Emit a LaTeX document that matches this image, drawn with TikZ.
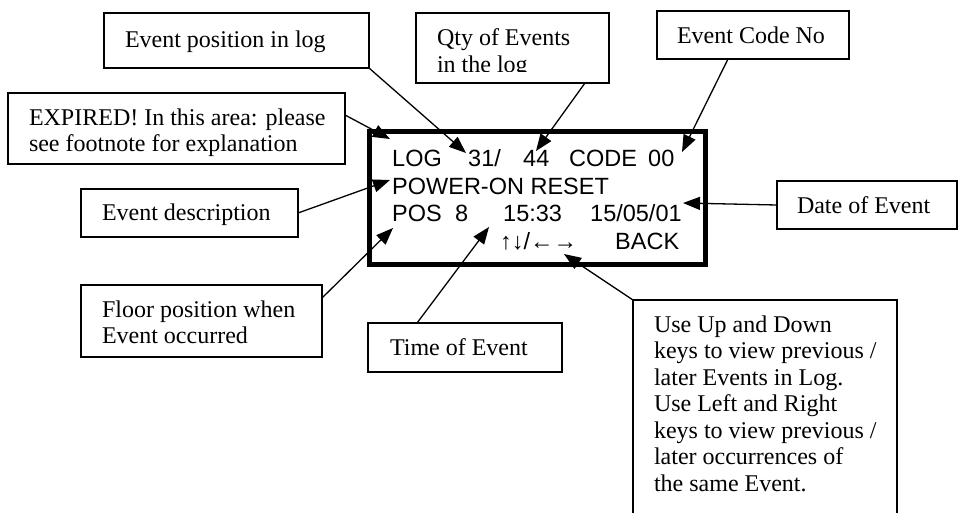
\documentclass[tikz,border=0pt]{standalone}
\usepackage{fontspec}
\setmainfont{Liberation Serif}
\newfontfamily\lcdfont{Liberation Sans}
\usetikzlibrary{arrows.meta}
\newcommand\lblfont{\fontsize{24}{26.5}\selectfont}
\newcommand\boxtext[2]{\makebox[#1pt][l]{\begin{tabular}[t]{@{}l@{}}#2\end{tabular}}}
\newcommand\lcdcell[2]{\makebox[#1pt][l]{#2}}

\begin{document}
\begin{tikzpicture}[x=1pt,y=-1pt,
    lbl/.style={draw, line width=1.5pt, anchor=base west, inner ysep=0pt, outer sep=0pt, font=\lblfont},
    lcdtext/.style={anchor=base west, inner sep=0pt, font=\lcdfont\fontsize{23.5}{27}\selectfont},
    pointer/.style={line width=1.3pt, -{Triangle[length=17pt,width=13pt]}}]
  \useasboundingbox (0,0) rectangle (958,512);
  \clip (0,0) rectangle (958,512);

  % the display
  \node[draw, line width=5pt, minimum width=336pt, minimum height=133pt, inner sep=0pt] (lcd) at (537.5,198) {};
  \node[lcdtext] (logline) at (392,166) {\lcdcell{76}{LOG}\lcdcell{55}{31/}\lcdcell{46}{44}\lcdcell{79}{CODE}00};
  \node[lcdtext] (msgline) at (392,194) {POWER-ON RESET};
  \node[lcdtext] (posline) at (392,221) {\lcdcell{63}{POS}\lcdcell{48}{8}\lcdcell{87}{15:33}15/05/01};
  \node[lcdtext] (keyline) at (500,249) {\lcdcell{115}{↑↓/←→}BACK};

  % callout boxes
  \node[lbl, inner xsep=21pt, text height=34pt, text depth=21pt] (posbox) at (104,47) {\boxtext{223}{Event position in log}};
  \node[lbl, inner xsep=21pt, text height=32.5pt, text depth=37.5pt] (qtybox) at (416,45.5) {\boxtext{151}{Qty of Events\\in the log}};
  \fill[white] (417,71.5) rectangle (608,82); % text frame cuts the second line
  \node[lbl, inner xsep=20pt, text height=32pt, text depth=16pt] (codebox) at (657,43) {\boxtext{152}{Event Code No}};
  \node[lbl, inner xsep=21pt, text height=32pt, text depth=39pt] (expbox) at (8,125) {\boxtext{295}{EXPIRED! In this area: please\\see footnote for explanation}};
  \node[lbl, inner xsep=21pt, text height=31pt, text depth=17pt] (descbox) at (81,220) {\boxtext{175}{Event description}};
  \node[lbl, inner xsep=21pt, text height=32pt, text depth=40pt] (floorbox) at (81,317) {\boxtext{199}{Floor position when\\Event occurred}};
  \node[lbl, inner xsep=22pt, text height=32pt, text depth=17pt] (timebox) at (368,355) {\boxtext{150}{Time of Event}};
  \node[lbl, inner xsep=20pt, text height=32pt, text depth=16pt] (datebox) at (777,213) {\boxtext{140}{Date of Event}};
  \node[lbl, inner xsep=21pt, text height=32pt, text depth=195pt] (keybox) at (633,332) {\boxtext{222}{Use Up and Down\\keys to view previous /\\later Events in Log.\\Use Left and Right\\keys to view previous /\\later occurrences of\\the same Event.}};

  % where the pointers end
  \coordinate (posTip) at (466,153);
  \coordinate (qtyTip) at (536,151);
  \coordinate (codeTip) at (682,152);
  \coordinate (expTip) at (390,139);
  \coordinate (descTip) at (390,180);
  \coordinate (floorTip) at (393,228);
  \coordinate (timeTip) at (489,227);
  \coordinate (keysTip) at (564,254);
  \coordinate (dateTip) at (683,203);

  \draw[pointer] (posbox.south east) -- (posTip);
  \draw[pointer] ([xshift=-24pt]qtybox.south east) -- (qtyTip);
  \draw[pointer] ([xshift=71pt]codebox.south west) -- (codeTip);
  \draw[pointer] ([yshift=13.5pt]expbox.east) -- (expTip);
  \draw[pointer] (descbox.east) -- (descTip);
  \draw[pointer] ([yshift=-13pt]floorbox.north east) -- (floorTip);
  \draw[pointer] ([xshift=49pt]timebox.north west) -- (timeTip);
  \draw[pointer] (keybox.north west) -- (keysTip);
  \draw[pointer] (datebox.west) -- (dateTip);
\end{tikzpicture}
\end{document}
